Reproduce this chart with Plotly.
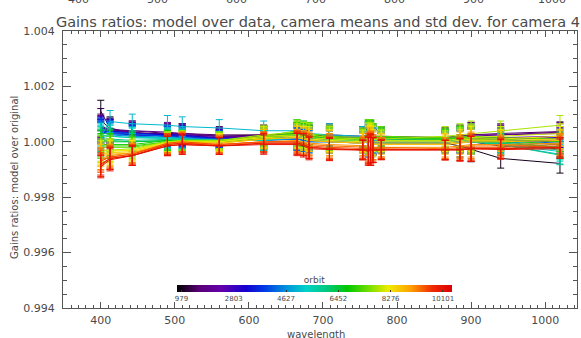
import plotly.graph_objects as go
from plotly.colors import sample_colorscale

# Band centre wavelengths (nm)
wavelengths = [400, 412.5, 442.5, 490, 510, 560, 620, 665, 673.75, 681.25, 708.75,
               753.75, 761.25, 764.375, 767.5, 778.75, 865, 885, 900, 940, 1020]

# Orbit numbers, one curve each
orbits = [979, 1200, 1450, 1700, 1900, 2350, 2600, 2803, 3250, 3500, 3700, 4150,
          4400, 4627, 5050, 5300, 5500, 6000, 6200, 6452, 6900, 7100, 7350, 7800,
          8000, 8276, 8500, 8700, 9100, 9300, 9500, 9800, 9950, 10101]

# Camera-mean gain ratio minus one, in units of 1e-4, per orbit and band
ratio_e4 = [
    [11, 5, 3, 2, 2, 1.5, 2, 1.5, 1, 1, 0.5, 0, 1, 0.5, 0, -0.5, -0.5, -1.5, -2.7, -6, -7.8],
    [8, 4.5, 3.5, 2.5, 2.5, 2, 2.5, 2, 1.5, 1.5, 1.5, 1, 1.5, 1, 1, 0.5, 0.5, 0.5, 0, -1.5, -2.5],
    [6, 4, 4, 3, 3, 2.5, 2.5, 3, 2.5, 2, 2.5, 2, 2.5, 2, 2, 2, 1.5, 2, 2.5, 3, 3.7],
    [5.5, 4, 3, 3, 3, 2, 2, 2.5, 2.5, 2, 2, 1.5, 2, 2, 1.5, 1.5, 1.5, 2, 2.5, 2.5, 3.5],
    [5, 4.5, 4, 3.5, 3, 2, 2, 2.5, 2, 2, 1.5, 1, 2, 1.5, 1.5, 1, 1, 1.5, 2, 2.5, 3],
    [4.5, 4, 3.5, 2, 2.5, 1.5, 2, 2, 2, 1.5, 1, 0.5, 1, 1, 1, 0.5, 0.5, 1, 1.5, 1.5, 2],
    [3.5, 3, 2.5, 2, 2, 1, 1.5, 1.5, 1.5, 1, 1, 0.5, 0.5, 0.5, 0, 0, 0.5, 1, 1, 1, 1.5],
    [4, 3.5, 3, 2.5, 2, 1.5, 1.5, 1.5, 1, 1, 1, 0.5, 0, 0.5, 0.5, 0, 0.5, 0.5, 1, 1.5, 1],
    [5, 4, 3, 2.5, 2.5, 1, 1, 1.5, 1, 0.5, 0.5, 0, 1, 0.5, 0, 0, 0, 0.5, 0.5, 1, 1.5],
    [4, 3.5, 2.5, 2, 1.5, 1, 1, 1, 0.5, 0.5, 0, 0, 0.5, 0, 0, -0.5, 0, 0, 0.5, 0.5, 0],
    [3.5, 3, 2.5, 2, 2, 1, 1, 1, 0.5, 0.5, 0.5, 0, -0.5, 0, 0, -0.5, 0, 0, 0.5, 0.5, 0.5],
    [4.5, 3.5, 3, 2, 1.5, 1, 0.5, 1, 1, 0, 0, -0.5, 0.5, 0, -0.5, -0.5, -0.5, 0, 0, 0.5, -0.5],
    [3.5, 2.5, 2, 1.5, 1, 0.5, 0.5, 1, 0.5, 0, 0, -0.5, 0, -0.5, -0.5, -0.5, -0.5, 0, 0, -0.5, -2],
    [3, 3, 2, 1.5, 1.5, 0.5, 0.5, 1.5, 1, 0.5, 0, 0, 1, 0.5, 0, 0, 0, 0.5, 0.5, 0, -1],
    [2, 7.3, 6.5, 6, 5.5, 5, 4, 4, 3.5, 3, 2.5, 2, 2.5, 2, 1.5, 1.5, 1, 1, 0.5, -1, -4.5],
    [2.5, 2, 1.5, 1, 1, 0.5, 0.5, 1.5, 1, 0.5, 0.5, 0, 1, 0.5, 0.5, 0, 0, 0.5, 0, -1, -3.5],
    [1.5, 2, 1.5, 1.5, 1, 0.5, 0.5, 2, 1.5, 1, 0.5, 0.5, 1.5, 1, 1, 0.5, 0.5, 1, 0.5, -0.5, -3],
    [1, 1, 0.5, 1, 1, 0.5, 1, 2.5, 2, 1.5, 1, 0.5, 2, 1.5, 1, 1, 0.5, 0.5, 0, -1, -4.8],
    [0.5, 0.5, 0, 0.5, 0.5, 0, 1, 2.5, 2, 1.5, 1, 0.5, 2, 1.5, 1, 0.5, 0.5, 1, 0.5, -0.5, -2.5],
    [0, 0, 0, 0.5, 0.5, 0, 1, 3, 2.5, 2, 1, 1, 2.5, 2, 1.5, 1, 1, 1, 0.5, 0, -2],
    [-1, -1, -1, 0.5, 0.5, 0, 1.5, 3.5, 3, 2.5, 1.5, 1, 3, 2.5, 2, 1.5, 1, 1.5, 1, 0.5, -1],
    [-1.5, -1.5, -1.5, 0, 0.5, 0.5, 1.5, 3, 2.5, 2, 1.5, 1, 2.5, 2, 1.5, 1.5, 1, 1.5, 1.5, 1, 0],
    [-2, -2, -2, 0, 0.5, 0.5, 2, 4, 3.5, 3, 2, 1.5, 3, 2.5, 2, 2, 1.5, 2, 2, 1.5, 1],
    [-3, -3, -2.5, 0, 0.5, 0.5, 2.5, 3.5, 3, 2.5, 1.5, 1, 2, 1.5, 1.5, 1, 2, 2.5, 3, 4, 6],
    [-3.5, -3, -3, 0, 0, 0, 2, 2.5, 2, 1.5, 1, 0.5, 1.5, 1, 1, 0.5, 0.5, 1, 1.5, 2, 3],
    [-4, -3.5, -3, -0.5, 0, 0, 1.5, 2, 1.5, 1, 0.5, 0, 1, 0.5, 0, 0, 0, 0.5, 1, 1, 2],
    [-4.5, -4, -3.5, -0.5, 0, -0.5, 1, 1.5, 1, 0.5, 0, -0.5, 0.5, 0, -0.5, -0.5, -0.5, 0, 0.5, 0.5, 1],
    [-5, -4.5, -4, -0.5, 0, -0.5, 1, 1.5, 1, 0.5, 0, -0.5, 0, -0.5, -1, -1, -1, -0.5, 0, 0, 0.5],
    [-6, -5, -4, -1, -0.5, -1, 0, 0.5, 0, -0.5, -1, -1.5, -1.5, -1.5, -2, -2, -2, -1.5, -1, -1, -0.5],
    [-6.5, -5.5, -4.5, -1, -0.5, -1, 0, 0, -0.5, -1, -1.5, -2, -2, -2, -2, -2, -2.5, -2, -1.5, -1.5, -1],
    [-7, -5.5, -4.5, -0.5, 0, -1, 0, 0, -0.5, -1.5, -2, -2.5, -2.5, -2, -2.5, -2.5, -2.8, -2.5, -2, -2, -1.5],
    [-8, -6, -5, -1, -0.5, -1.5, -0.5, -0.5, -1, -2, -2.5, -2.8, -3, -2.5, -3, -2.8, -3, -2.8, -2.5, -2.5, -2],
    [-8.5, -6, -5, -1.5, -1, -1.5, -0.5, -0.5, -1, -2, -2.5, -3, -3, -3, -3, -2.8, -3, -2.8, -2.5, -2.5, -2],
    [-9, -6.5, -5, -1.5, -1, -1.5, -1, -1, -1.5, -2.5, -2.8, -3, -3.5, -3, -3, -3, -3, -3, -2.5, -2.8, -2.5],
]

# Standard deviation across the camera, in units of 1e-4, per band
std_e4 = [4.0, 4.0, 3.5, 3.5, 3.5, 3.0, 3.5, 4.0, 4.0, 4.0, 4.0, 3.5, 5.0, 5.5, 4.5,
          3.5, 3.5, 4.0, 4.5, 3.5, 3.5]

# Colour bar annotation values
orbit_ticks = [979, 2803, 4627, 6452, 8276, 10101]
orbit_range = [820, 10410]

# Tick labels printed along the top edge (axis of the panel above)
top_labels = ["400", "500", "600", "700", "800", "900", "1000"]

SCALE = 1e-4

rainbow = [
    [0.00, "rgb(0,0,0)"],
    [0.08, "rgb(90,0,120)"],
    [0.16, "rgb(100,0,170)"],
    [0.25, "rgb(20,0,210)"],
    [0.32, "rgb(0,60,230)"],
    [0.40, "rgb(0,150,220)"],
    [0.47, "rgb(0,210,200)"],
    [0.55, "rgb(0,200,120)"],
    [0.62, "rgb(0,200,0)"],
    [0.70, "rgb(120,225,0)"],
    [0.77, "rgb(240,235,0)"],
    [0.85, "rgb(255,160,0)"],
    [0.93, "rgb(240,40,0)"],
    [1.00, "rgb(220,0,0)"],
]

FONT = "DejaVu Sans"
TXT = "#4a4a4a"

fig = go.Figure()

lo, hi = orbit_range
for orb, row in zip(orbits, ratio_e4):
    frac = (orb - lo) / (hi - lo)
    col = sample_colorscale(rainbow, [frac])[0]
    fig.add_trace(go.Scatter(
        x=wavelengths,
        y=[1 + v * SCALE for v in row],
        mode="lines",
        line=dict(color=col, width=1),
        error_y=dict(type="data", array=[s * SCALE for s in std_e4],
                     color=col, thickness=1, width=3.5),
        showlegend=False,
        hoverinfo="skip",
    ))

# Colour bar for orbit number
fig.add_trace(go.Scatter(
    x=[None], y=[None], mode="markers", showlegend=False,
    marker=dict(
        color=[lo], cmin=lo, cmax=hi, colorscale=rainbow, showscale=True,
        colorbar=dict(
            orientation="h", x=0.489, xanchor="center", y=0.119, yanchor="top",
            len=275, lenmode="pixels", thickness=7, outlinewidth=0,
            xpad=0, ypad=0,
            tickvals=orbit_ticks, ticktext=[str(t) for t in orbit_ticks],
            ticks="inside", ticklen=2, tickcolor="#333",
            tickfont=dict(family=FONT, size=7, color=TXT),
            title=dict(text="orbit", side="top", font=dict(family=FONT, size=9, color=TXT)),
        ),
    ),
))

axis_common = dict(
    showline=True, linecolor="#555", linewidth=1, mirror="ticks",
    ticks="inside", tickcolor="#555", showgrid=False, zeroline=False,
    tickfont=dict(family=FONT, size=11, color=TXT),
)

fig.update_xaxes(range=[349, 1043], dtick=100, tick0=0, ticklen=6,
                 minor=dict(dtick=10, ticklen=3, ticks="inside", tickcolor="#555"),
                 ticklabelstandoff=2, **axis_common)
fig.update_yaxes(range=[0.994, 1.004], dtick=0.002, tick0=0.994, tickformat=".3f", ticklen=8,
                 minor=dict(dtick=0.0005, ticklen=4, ticks="inside", tickcolor="#555"),
                 ticklabelstandoff=5, **axis_common)

annotations = [
    dict(text="wavelength", x=(316 - 63) / 514, y=(308 - 334) / 277, xref="paper", yref="paper",
         showarrow=False, font=dict(family=FONT, size=10, color=TXT), xanchor="center", yanchor="middle"),
    dict(text="Gains ratios: model over original", x=(14 - 63) / 514, y=(308 - 178) / 277,
         xref="paper", yref="paper", textangle=-90, showarrow=False,
         font=dict(family=FONT, size=10, color=TXT), xanchor="center", yanchor="middle"),
]
for i, lab in enumerate(top_labels):
    px = 78 + 79 * i
    annotations.append(dict(text=lab, x=(px - 63) / 514, y=(308 - 0) / 277, xref="paper",
                            yref="paper", showarrow=False, xanchor="center", yanchor="middle",
                            font=dict(family=FONT, size=11, color=TXT)))

fig.update_layout(
    width=581, height=338,
    margin=dict(l=63, r=4, t=31, b=30),
    paper_bgcolor="white", plot_bgcolor="white",
    title=dict(text="Gains ratios: model over data, camera means and std dev. for camera 4",
               x=(318 - 63) / 514, xref="paper", xanchor="center",
               y=1 - 21.5 / 338, yanchor="middle",
               font=dict(family=FONT, size=14.5, color=TXT)),
    annotations=annotations,
)

fig.write_html("out.html")
